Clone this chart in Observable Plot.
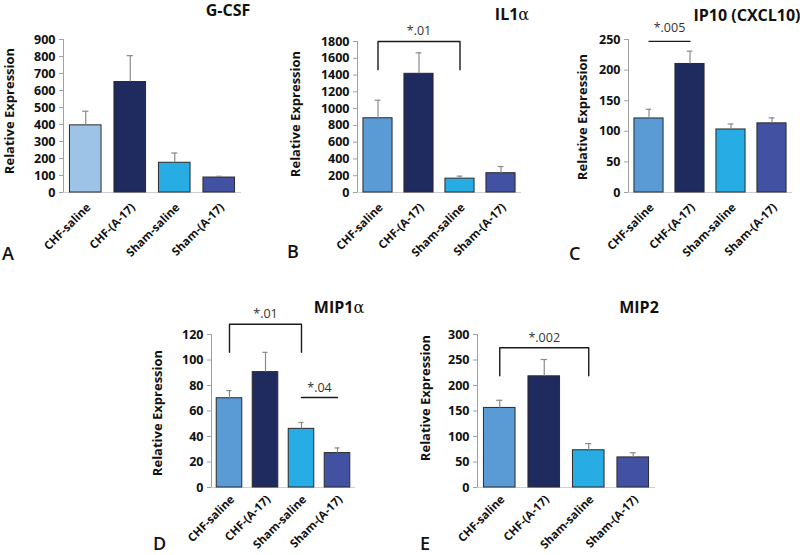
<!DOCTYPE html>
<html><head><meta charset="utf-8">
<script src="https://cdn.jsdelivr.net/npm/d3@7"></script>
<script src="https://cdn.jsdelivr.net/npm/@observablehq/plot@0.6"></script>
<style>
body{margin:0;background:#fff;}
#wrap{position:relative;width:800px;height:555px;overflow:hidden;font-family:"Open Sans",sans-serif;background:#fff;}
.panel{position:absolute;}
.panel text{font-weight:700;}
.panel text.sig, .panel g.sig text{font-weight:400;}
.title{position:absolute;font-weight:700;font-size:16px;color:#111;transform:translate(-50%,-50%);white-space:nowrap;line-height:1.1;}
.title .g{font-weight:400;font-family:"DejaVu Serif",serif;}
.letter{position:absolute;font-weight:600;font-size:18px;color:#111;transform:translate(0,-50%);line-height:1.1;}
</style></head><body><div id="wrap"></div>
<script>
// ---- data ----
const categories = ["CHF-saline", "CHF-(A-17)", "Sham-saline", "Sham-(A-17)"];

const gcsfMean = [395, 650, 175, 88];
const gcsfErr  = [478, 805, 232, 95];
const gcsfTicks = [0, 100, 200, 300, 400, 500, 600, 700, 800, 900];

const il1aMean = [885, 1415, 165, 230];
const il1aErr  = [1100, 1665, 195, 310];
const il1aTicks = [0, 200, 400, 600, 800, 1000, 1200, 1400, 1600, 1800];

const ip10Mean = [121, 210, 103, 113];
const ip10Err  = [136, 231, 112, 122];
const ip10Ticks = [0, 50, 100, 150, 200, 250];

const mip1aMean = [70, 90.5, 46, 27];
const mip1aErr  = [76, 106, 51, 31];
const mip1aTicks = [0, 20, 40, 60, 80, 100, 120];

const mip2Mean = [156, 218, 73, 59];
const mip2Err  = [171, 251, 86, 68];
const mip2Ticks = [0, 50, 100, 150, 200, 250, 300];

// significance annotations: [fromCategory, toCategory, lineValue, legValue (null = plain line), labelValue, label]
const il1aSig  = [[0, 2, 1800, 1464, 1920, "*.01"]];
const ip10Sig  = [[0, 1, 247, null, 268, "*.005"]];
const mip1aSig = [[0, 2, 128, 106, 136, "*.01"], [2, 3, 70.6, null, 78, "*.04"]];
const mip2Sig  = [[0, 2, 274, 219, 293, "*.002"]];

const colorsA = ["#9dc3e6", "#1f2b5e", "#27ade3", "#4351a3"];
const colorsB = ["#5b9bd5", "#1f2b5e", "#27ade3", "#4351a3"];

// ---- layout ----
const panels = [
  {mean: gcsfMean, err: gcsfErr, ticks: gcsfTicks, sig: [], colors: colorsA, title: "G-CSF", letter: "A",
   left: 0, top: 0, width: 260, height: 270, mL: 63, mR: 19, mT: 39, mB: 78, ldx: -54, ldy: -5, pad: 13,
   tx: 228, ty: 11, lx: 2, ly: 254},
  {mean: il1aMean, err: il1aErr, ticks: il1aTicks, sig: il1aSig, colors: colorsB, title: "IL1<span class='g'>α</span>", letter: "B",
   left: 260, top: 0, width: 270, height: 270, mL: 97, mR: 9, mT: 41, mB: 78, ldx: -62, ldy: -3, pad: 13,
   tx: 512, ty: 15, lx: 287, ly: 252},
  {mean: ip10Mean, err: ip10Err, ticks: ip10Ticks, sig: ip10Sig, colors: colorsB, title: "IP10 (CXCL10)", letter: "C",
   left: 530, top: 0, width: 270, height: 270, mL: 98, mR: 8, mT: 39, mB: 78, ldx: -46, ldy: 1, pad: 13,
   tx: 747, ty: 16, lx: 569, ly: 254},
  {mean: mip1aMean, err: mip1aErr, ticks: mip1aTicks, sig: mip1aSig, colors: colorsB, title: "MIP1<span class='g'>α</span>", letter: "D",
   left: 0, top: 280, width: 400, height: 275, mL: 211, mR: 45, mT: 54, mB: 68, ldx: -54, ldy: 2, pad: 10,
   tx: 339, ty: 308, lx: 153, ly: 544},
  {mean: mip2Mean, err: mip2Err, ticks: mip2Ticks, sig: mip2Sig, colors: colorsB, title: "MIP2", letter: "E",
   left: 400, top: 280, width: 400, height: 275, mL: 77, mR: 145, mT: 54, mB: 68, ldx: -52, ldy: -13, pad: 10,
   tx: 639, ty: 308, lx: 420, ly: 544}
];

const wrap = document.getElementById("wrap");
const hw = 0.355;

for (const p of panels) {
  const rows = categories.map((c, i) => ({cat: c, i, mean: p.mean[i], err: p.err[i]}));
  const sigLines = [];
  const sigLabels = [];
  p.sig.forEach(([a, b, yv, leg, lab, text], k) => {
    const pts = leg == null ? [[a, yv], [b, yv]] : [[a, leg], [a, yv], [b, yv], [b, leg]];
    pts.forEach(q => sigLines.push({x: q[0], y: q[1], k}));
    sigLabels.push({x: (a + b) / 2, y: lab, text});
  });
  const ymax = p.ticks[p.ticks.length - 1];
  const chart = Plot.plot({
    width: p.width, height: p.height,
    marginLeft: p.mL, marginRight: p.mR, marginTop: p.mT, marginBottom: p.mB,
    style: {fontFamily: "Open Sans, sans-serif", background: "transparent", overflow: "visible"},
    x: {type: "linear", domain: [-0.5, 3.5], axis: null},
    y: {domain: [0, ymax], axis: null},
    color: {domain: categories, range: p.colors},
    marks: [
      Plot.ruleY([0], {stroke: "#cfcfcf", strokeWidth: 1.2}),
      Plot.ruleX([-0.5], {stroke: "#a0a0a0", strokeWidth: 1}),
      Plot.axisY({ticks: p.ticks, tickFormat: d => String(d), tickSize: 4, tickPadding: 4,
        stroke: "#a0a0a0", fill: "#111", fontSize: 12.5, label: null}),
      Plot.axisX({ticks: [0, 1, 2, 3], tickFormat: i => categories[i], tickRotate: -45, tickSize: 0, tickPadding: p.pad,
        dx: 3, fill: "#111", fontSize: 11.5, label: null}),
      Plot.rectY(rows, {x1: d => d.i - hw, x2: d => d.i + hw, y1: 0, y2: "mean", fill: "cat", stroke: "#2a2a2a", strokeWidth: 1}),
      Plot.ruleX(rows, {x: "i", y1: "mean", y2: "err", stroke: "#8a8a8a", strokeWidth: 1.2}),
      Plot.ruleY(rows, {y: "err", x1: d => d.i - 0.07, x2: d => d.i + 0.07, stroke: "#8a8a8a", strokeWidth: 1.2}),
      Plot.line(sigLines, {x: "x", y: "y", z: "k", stroke: "#1a1a1a", strokeWidth: 1.4}),
      Plot.text(sigLabels, {x: "x", y: "y", text: "text", fill: "#333", fontSize: 12.5, className: "sig"}),
      Plot.text(["Relative Expression"], {frameAnchor: "left", textAnchor: "middle", rotate: -90, dx: p.ldx, dy: p.ldy,
        fill: "#111", fontSize: 13})
    ]
  });
  chart.classList.add("panel");
  chart.style.left = p.left + "px";
  chart.style.top = p.top + "px";
  wrap.appendChild(chart);

  const t = document.createElement("div");
  t.className = "title";
  t.innerHTML = p.title;
  t.style.left = p.tx + "px";
  t.style.top = p.ty + "px";
  wrap.appendChild(t);

  const l = document.createElement("div");
  l.className = "letter";
  l.textContent = p.letter;
  l.style.left = p.lx + "px";
  l.style.top = p.ly + "px";
  wrap.appendChild(l);
}
</script></body></html>
